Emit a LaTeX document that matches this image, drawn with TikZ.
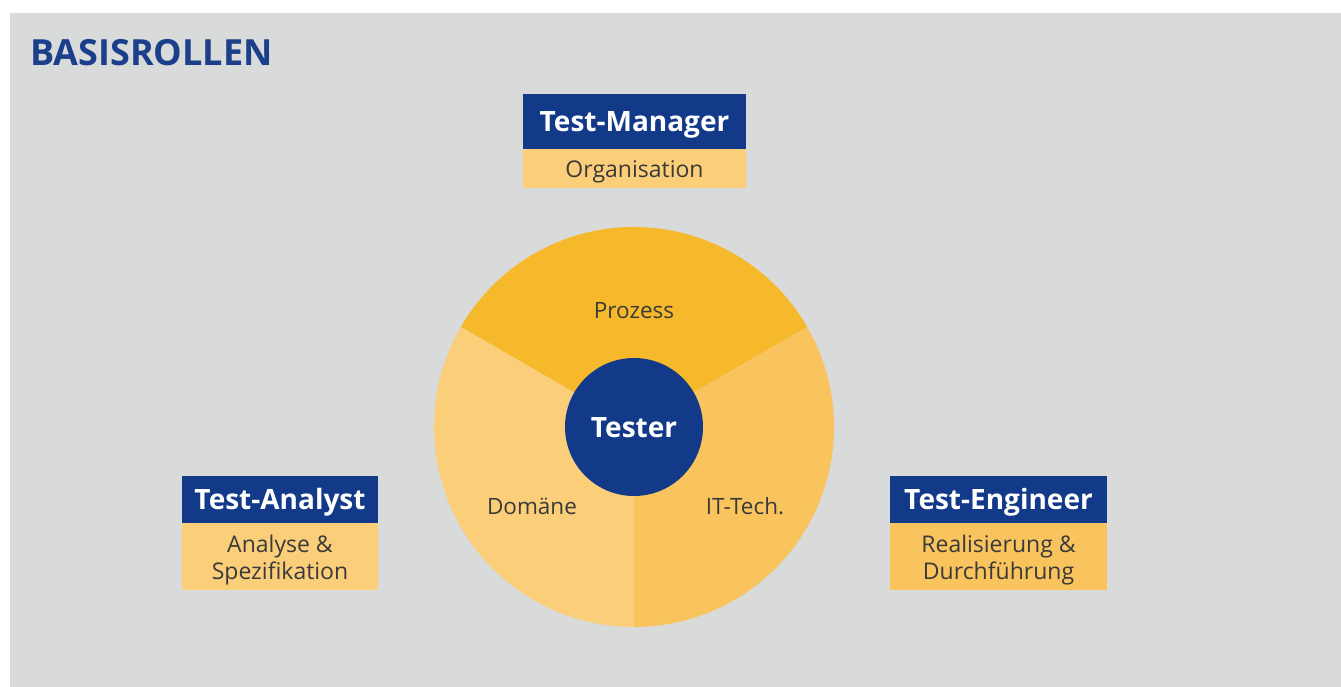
\documentclass[tikz,border=0pt]{standalone}
\usepackage{fontspec}
\setmainfont{Open Sans}
\definecolor{pagegray}{HTML}{D9DBDA}
\definecolor{roleblue}{HTML}{133A89}
\definecolor{titleblue}{HTML}{1B3F8B}
\definecolor{textgray}{HTML}{3A3A3A}
\definecolor{paleyellow}{HTML}{FBCE7A}
\definecolor{midyellow}{HTML}{F9C45D}
\definecolor{deepyellow}{HTML}{F6B92B}
\tikzset{
  panel/.style={inner sep=0pt, outer sep=0pt, anchor=north west},
  boldlabel/.style={text=white, inner sep=0pt, anchor=base,
    font=\fontsize{28}{32}\selectfont\bfseries},
  plainlabel/.style={text=textgray, inner sep=0pt, anchor=base,
    font=\fontsize{23}{27}\selectfont},
  seglabel/.style={text=textgray, inner sep=0pt, anchor=base,
    font=\fontsize{22.5}{27}\selectfont},
}
\begin{document}
\begin{tikzpicture}[x=1pt,y=1pt]
  % canvas and grey panel
  \useasboundingbox (0,0) rectangle (1341,687);
  \fill[white] (0,0) rectangle (1341,687);
  \fill[pagegray] (10,0) rectangle (1341,674);

  % title
  \node[anchor=base west, inner sep=0pt, text=titleblue,
        font=\fontsize{36}{40}\selectfont\bfseries] (title) at (30,621) {BASISROLLEN};

  % wheel of competences
  \coordinate (c) at (634,260);
  \fill[deepyellow] (c) -- ++(30:200) arc[start angle=30, end angle=150, radius=200] -- cycle;
  \fill[midyellow]  (c) -- ++(-90:200) arc[start angle=-90, end angle=30, radius=200] -- cycle;
  \fill[paleyellow] (c) -- ++(150:200) arc[start angle=150, end angle=270, radius=200] -- cycle;
  \node[circle, fill=roleblue, minimum size=138, inner sep=0pt] (hub) at (c) {};
  \node[boldlabel] (tester) at ([yshift=-11]hub.center) {Tester};
  \node[seglabel] (prozess) at (634,368) {Prozess};
  \node[seglabel] (domaene) at (532,172) {Domäne};
  \node[seglabel] (ittech)  at (745,172) {IT-Tech.};

  % Test-Manager
  \node[panel, fill=roleblue, minimum width=223, minimum height=55] (tm) at (523,593) {};
  \node[panel, fill=paleyellow, minimum width=223, minimum height=39] (tmtask) at (tm.south west) {};
  \node[boldlabel] (tmname) at ([yshift=-10]tm.center) {Test-Manager};
  \node[plainlabel] (tmtext) at ([yshift=-9]tmtask.center) {Organisation};

  % Test-Analyst
  \node[panel, fill=roleblue, minimum width=196, minimum height=47] (ta) at (182,211) {};
  \node[panel, fill=paleyellow, minimum width=196, minimum height=67] (tatask) at (ta.south west) {};
  \node[boldlabel] (taname) at ([yshift=-10]ta.center) {Test-Analyst};
  \node[plainlabel] (tatexta) at (280,134) {Analyse \&};
  \node[plainlabel] (tatextb) at (280,107) {Spezifikation};

  % Test-Engineer
  \node[panel, fill=roleblue, minimum width=217, minimum height=47] (te) at (890,211) {};
  \node[panel, fill=midyellow, minimum width=217, minimum height=67] (tetask) at (te.south west) {};
  \node[boldlabel] (tename) at ([yshift=-10]te.center) {Test-Engineer};
  \node[plainlabel] (tetexta) at (998.5,134) {Realisierung \&};
  \node[plainlabel] (tetextb) at (998.5,107) {Durchführung};
\end{tikzpicture}
\end{document}
